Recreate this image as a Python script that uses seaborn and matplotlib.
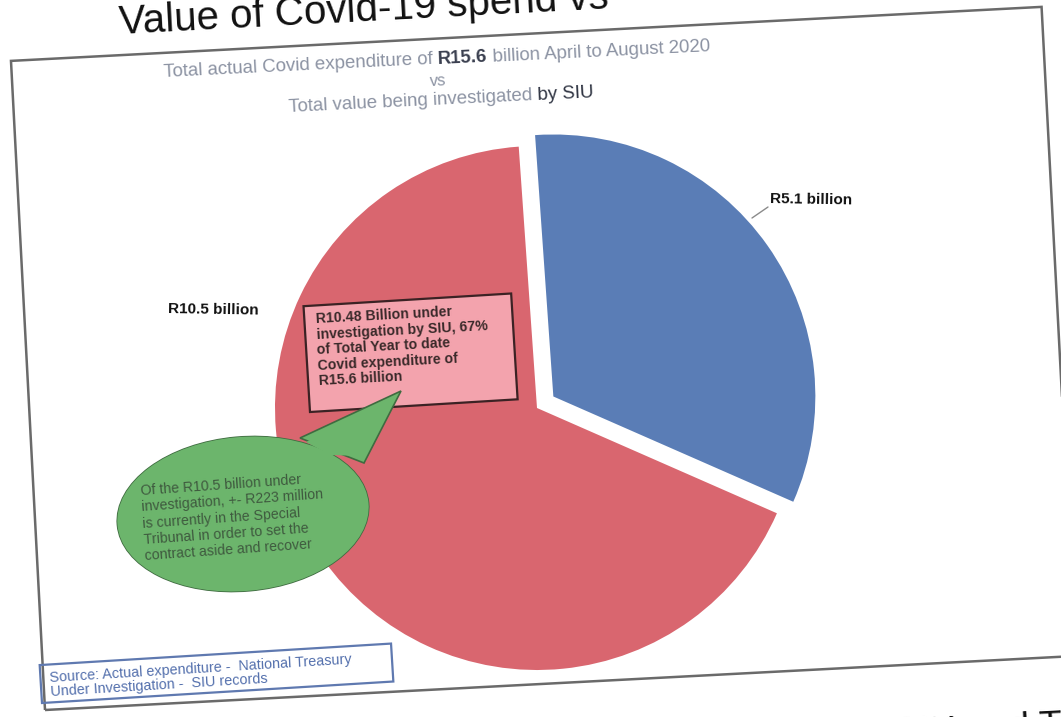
import matplotlib
matplotlib.use("Agg")
import matplotlib.pyplot as plt
import matplotlib.patches as mpatches
import numpy as np
import seaborn as sns

# ---- data ----
slice_names = ["Under investigation by SIU", "Remaining Covid expenditure"]
slice_values = [5.1, 10.5]          # R billion
total_spend = 15.6                  # R billion, April to August 2020
investigated = 10.48                # R billion under investigation
investigated_pct = 67
tribunal_value = 223                # R million in the Special Tribunal

sns.set_theme(style="white")
plt.rcParams["font.family"] = ["Liberation Sans", "DejaVu Sans"]

W, H = 1061, 717
fig = plt.figure(figsize=(W / 100, H / 100), dpi=100)
ax = fig.add_axes([0, 0, 1, 1])

TILT = 3.0  # the whole sheet sits slightly rotated

blue = "#5a7db6"
red = "#d9666f"
pink = "#f3a3ad"
green = "#6cb56c"

# outer frame of the chart area
frame = mpatches.Rectangle((45, 7), 1032, 650, angle=TILT, fill=False,
                           edgecolor="#6a6a6a", linewidth=1.8, zorder=1)
ax.add_patch(frame)

# pie
wedges, _ = ax.pie(slice_values, colors=[blue, red], startangle=94,
                   counterclock=False, explode=[20, 0],
                   center=(537, 309), radius=262,
                   wedgeprops=dict(linewidth=0), frame=True)
for w in wedges:
    w.set_zorder(2)

# slice labels
ax.text(770, 517, f"R{slice_values[0]} billion", fontsize=11, fontweight="bold",
        color="#111111", ha="left", va="center", rotation=-1, zorder=5)
ax.plot([752, 768], [499, 510], color="#8a8a8a", linewidth=1, zorder=5)
ax.text(168, 407, f"R{slice_values[1]} billion", fontsize=11, fontweight="bold",
        color="#111111", ha="left", va="center", rotation=-1, zorder=5)

# pink call-out box
box = mpatches.Rectangle((310, 305), 208, 106, angle=TILT + 0.5,
                         facecolor=pink, edgecolor="#3b2224", linewidth=1.6, zorder=3)
ax.add_patch(box)
ax.text(315, 405,
        f"R{investigated} Billion under\n"
        f"investigation by SIU, {investigated_pct}%\n"
        "of Total Year to date\n"
        "Covid expenditure of\n"
        f"R{total_spend} billion",
        fontsize=10.2, fontweight="bold", color="#3a2a2a", ha="left", va="top",
        rotation=TILT, rotation_mode="anchor", linespacing=1.15, zorder=6)

# green speech bubble
ell_kw = dict(xy=(243, 203), width=252, height=154, angle=5)
tail_pts = [(300, 279), (401, 326), (364, 254)]
ax.add_patch(mpatches.Ellipse(**ell_kw, facecolor=green, edgecolor="#3f6b40",
                              linewidth=1.2, zorder=4))
ax.add_patch(mpatches.Polygon(tail_pts, closed=True, facecolor=green,
                              edgecolor="#3f6b40", linewidth=1.2, zorder=4))
ax.add_patch(mpatches.Ellipse(**ell_kw, facecolor=green, edgecolor="none", zorder=4.1))
ax.add_patch(mpatches.Polygon([(306, 275), (392, 320), (362, 261), (330, 262)],
                              closed=True, facecolor=green, edgecolor="none", zorder=4.1))
ax.text(140, 233,
        f"Of the R{slice_values[1]} billion under\n"
        f"investigation, +- R{tribunal_value} million\n"
        "is currently in the Special\n"
        "Tribunal in order to set the\n"
        "contract aside and recover",
        fontsize=10.2, color="#3f5a3f", ha="left", va="top",
        rotation=4, rotation_mode="anchor", linespacing=1.22, zorder=6)

# source box
src = mpatches.Rectangle((42, 14), 352, 38, angle=TILT + 0.5, fill=False,
                         edgecolor="#5f79b0", linewidth=1.6, zorder=5)
ax.add_patch(src)
ax.text(49, 46, "Source: Actual expenditure -  National Treasury\n"
                "Under Investigation -  SIU records",
        fontsize=10.4, color="#5470ad", ha="left", va="top",
        rotation=TILT + 0.5, rotation_mode="anchor", linespacing=1.0, zorder=6)


def tilted_runs(x, y, runs, angle, size):
    """Centre a line built from differently styled runs on (x, y), tilted."""
    renderer = fig.canvas.get_renderer()
    widths = []
    for txt, weight, _ in runs:
        t = ax.text(0, 0, txt, fontsize=size, fontweight=weight)
        widths.append(t.get_window_extent(renderer).width)
        t.remove()
    total = sum(widths)
    c, s = np.cos(np.radians(angle)), np.sin(np.radians(angle))
    offset = -total / 2
    for (txt, weight, color), w in zip(runs, widths):
        ax.text(x + offset * c, y + offset * s, txt, fontsize=size,
                fontweight=weight, color=color, ha="left", va="baseline",
                rotation=angle, rotation_mode="anchor", zorder=6)
        offset += w


grey = "#8c93a3"
tilted_runs(437, 653, [("Total actual Covid expenditure of ", "normal", grey),
                       (f"R{total_spend}", "bold", "#3a3f4f"),
                       (" billion April to August 2020", "normal", grey)],
            TILT - 0.2, 13.4)
tilted_runs(438, 631, [("vs", "normal", grey)], TILT - 0.2, 12)
tilted_runs(441, 612, [("Total value being investigated ", "normal", grey),
                       ("by SIU", "normal", "#2f3442")], TILT - 0.2, 13.4)

# page heading and the next heading below the chart
ax.text(120, 683, "Value of Covid-19 spend vs",
        fontsize=29, color="#111111", ha="left", va="baseline",
        rotation=TILT, rotation_mode="anchor", zorder=6)
ax.text(895, -29, "SIU and Tier", fontsize=27, color="#111111", ha="left",
        va="baseline", rotation=TILT, rotation_mode="anchor", zorder=6)

ax.set_xlim(0, W)
ax.set_ylim(0, H)
ax.set_aspect("equal")
ax.axis("off")

fig.savefig("out.png", dpi=100, facecolor="white")
